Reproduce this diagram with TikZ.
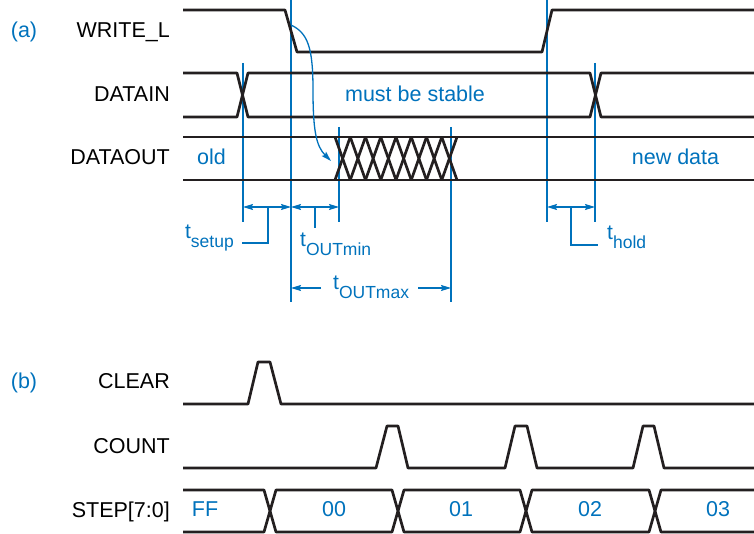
\documentclass[tikz,border=0pt]{standalone}
\usepackage{fontspec}
\setmainfont{Liberation Sans}
\usetikzlibrary{arrows.meta}
\definecolor{sigblue}{RGB}{0,114,188}
\definecolor{sigblack}{RGB}{35,31,32}
\newcommand{\tsubl}[1]{t\raisebox{-9pt}{\fontsize{17.5}{17.5}\selectfont #1}}
\tikzset{
  wave/.style={draw=sigblack, line width=2.7pt, line join=round},
  guide/.style={draw=sigblue, line width=1.3pt},
  dim/.style={draw=sigblue, line width=1.3pt, {Stealth[length=10pt,width=6pt,inset=1.5pt]}-{Stealth[length=10pt,width=6pt,inset=1.5pt]}},
  dimone/.style={draw=sigblue, line width=1.3pt, -{Stealth[length=10pt,width=6pt,inset=1.5pt]}},
  siglabel/.style={anchor=base east, inner sep=0pt, text=black, font=\fontsize{21.5}{25}\selectfont},
  bluetext/.style={anchor=base, inner sep=0pt, text=sigblue, font=\fontsize{21.5}{25}\selectfont},
  timelabel/.style={inner sep=0pt, text=sigblue, font=\fontsize{21}{25}\selectfont}
}
\begin{document}
\begin{tikzpicture}[x=1pt,y=-1pt]
\useasboundingbox (0,0) rectangle (754,534);
% ---------- (a) ----------
\node[bluetext] (lbla) at (24,37.5) {(a)};
\node[siglabel] (lwr) at (170,37.5) {WRITE\_L};
\node[siglabel] (ldi) at (170,101.5) {DATAIN};
\node[siglabel] (ldo) at (170,165) {DATAOUT};

% guide lines
\draw[guide] (243,63) -- (243,222);
\draw[guide] (291,0) -- (291,302);
\draw[guide] (339,127) -- (339,222);
\draw[guide] (451,127) -- (451,302);
\draw[guide] (547,0) -- (547,222);
\draw[guide] (595,63) -- (595,222);

% WRITE_L
\draw[wave] (183,10) -- (285,10) -- (297,52) -- (542,52) -- (552,10) -- (754,10);
% DATAIN
\draw[wave] (183,73) -- (237,73) -- (248,117) -- (590,117) -- (601,73) -- (754,73);
\draw[wave] (183,117) -- (237,117) -- (248,73) -- (590,73) -- (601,117) -- (754,117);
% DATAOUT
\draw[wave] (183,137) -- (754,137);
\draw[wave] (183,180) -- (754,180);
\foreach \k in {0,...,7}{
  \pgfmathsetmacro{\xa}{335+15.25*\k}
  \pgfmathsetmacro{\xb}{\xa+15.25}
  \draw[wave] (\xa,137) -- (\xb,180);
  \draw[wave] (\xa,180) -- (\xb,137);
}
\node[bluetext] (tmust) at (415,101.5) {must be stable};
\node[bluetext] (told) at (211.5,165) {old};
\node[bluetext] (tnew) at (675.5,165) {new data};

% causal curved arrow
\coordinate (cs) at (291,25);
\coordinate (ce) at (331,161);
\draw[dimone] (cs) .. controls (308,33) and (313,48) .. (313,90) .. controls (313,130) and (316,146) .. (ce);

% timing dimensions
\coordinate (s1) at (243,207); \coordinate (s2) at (291,207); \coordinate (s3) at (339,207);
\draw[dim] (s1) -- (s2);
\draw[dim] (s2) -- (s3);
\coordinate (sm) at (268,207);
\draw[guide] (sm) -- (268,243) -- (242,243);
\node[timelabel, anchor=base east] (tsetup) at (234,239) {\tsubl{setup}};
\coordinate (om) at (315,207);
\draw[guide] (om) -- (315,228);
\node[timelabel, anchor=base west] (toutmin) at (300,247) {\tsubl{OUTmin}};
\coordinate (h1) at (547,207); \coordinate (h2) at (595,207);
\draw[dim] (h1) -- (h2);
\draw[guide] (571,207) -- (571,245) -- (598,245);
\node[timelabel, anchor=base west] (thold) at (607,240) {\tsubl{hold}};
\coordinate (m1) at (291,288); \coordinate (m2) at (451,288);
\coordinate (m1a) at (321,288); \coordinate (m2a) at (418,288);
\draw[dimone] (m1a) -- (m1);
\draw[dimone] (m2a) -- (m2);
\node[timelabel, anchor=base west] (toutmax) at (333,290) {\tsubl{OUTmax}};

% ---------- (b) ----------
\node[bluetext] (lblb) at (24,388.5) {(b)};
\node[siglabel] (lcl) at (170,388.5) {CLEAR};
\node[siglabel] (lco) at (170,453.5) {COUNT};
\node[siglabel] (lst) at (170,517) {STEP[7:0]};

\draw[wave] (183,404) -- (248,404) -- (258,362) -- (270,362) -- (281,404) -- (754,404);
\draw[wave] (183,468) -- (376,468) -- (387,426) -- (398,426) -- (408,468)
  -- (505,468) -- (515,426) -- (527,426) -- (537,468)
  -- (633,468) -- (643,426) -- (654,426) -- (664,468) -- (754,468);
\draw[wave] (183,490) -- (264,490) -- (276,532) -- (392,532) -- (404,490) -- (520,490) -- (532,532) -- (649,532) -- (661,490) -- (754,490);
\draw[wave] (183,532) -- (264,532) -- (276,490) -- (392,490) -- (404,532) -- (520,532) -- (532,490) -- (649,490) -- (661,532) -- (754,532);
\node[bluetext] (vff) at (205,516) {FF};
\node[bluetext] (v00) at (334,516) {00};
\node[bluetext] (v01) at (461,516) {01};
\node[bluetext] (v02) at (590,516) {02};
\node[bluetext] (v03) at (718,516) {03};
\end{tikzpicture}
\end{document}
